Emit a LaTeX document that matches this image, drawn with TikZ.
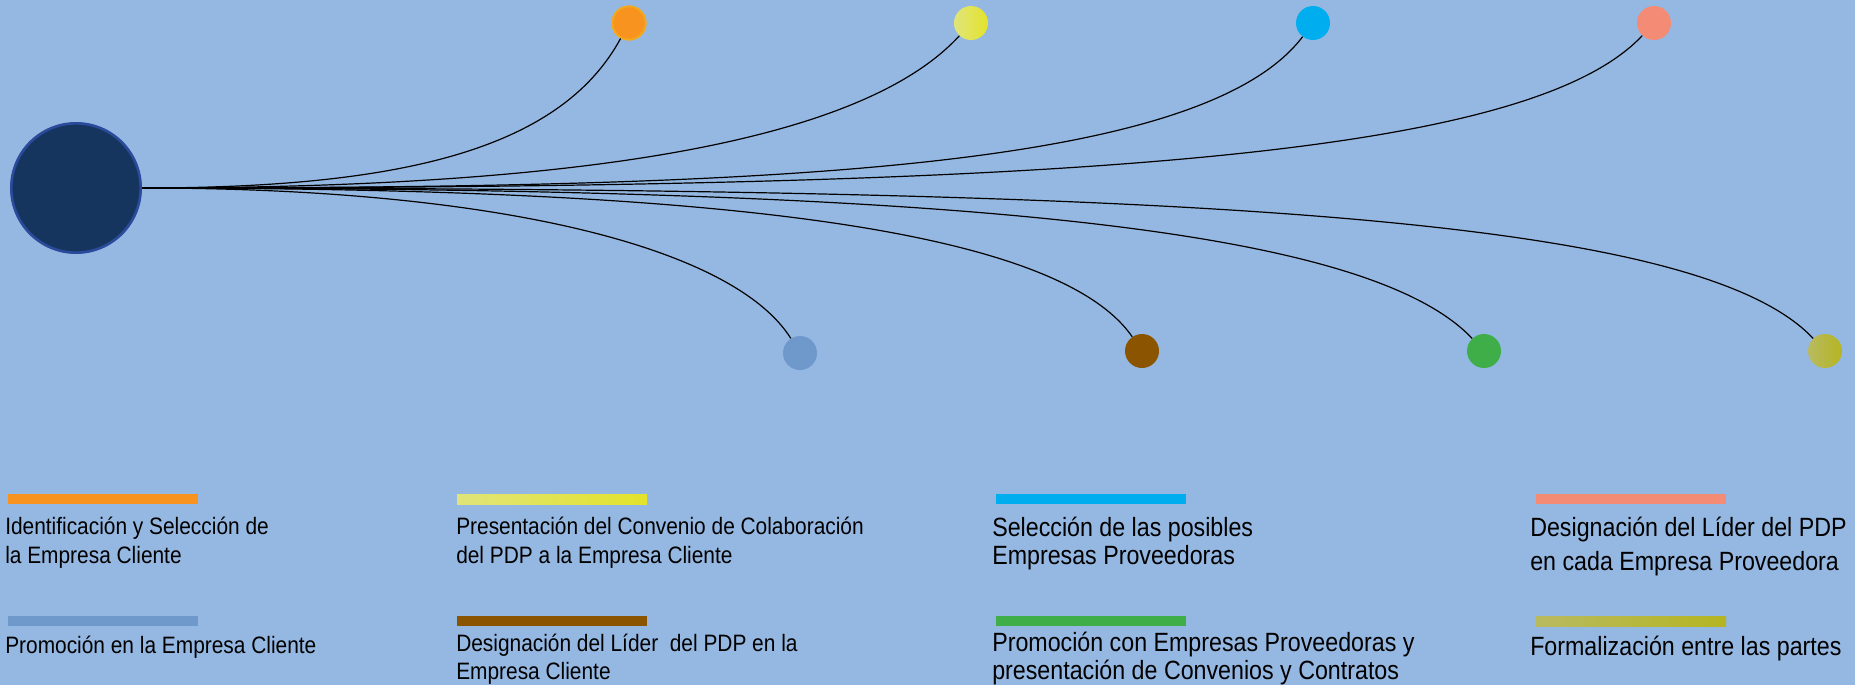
\documentclass[tikz,border=0pt]{standalone}
\usepackage{fontspec}
\setmainfont[FakeStretch=0.88]{Liberation Sans}
\usetikzlibrary{positioning}

\definecolor{bgblue}{HTML}{95B8E2}
\definecolor{hubfill}{HTML}{15355E}
\definecolor{hubline}{HTML}{2A4A9B}
\definecolor{cOrange}{HTML}{F7931E}
\definecolor{cOrangeRing}{HTML}{F5A81C}
\definecolor{cYellowL}{HTML}{E0E47A}
\definecolor{cYellow}{HTML}{E3E32A}
\definecolor{cCyan}{HTML}{00AEEF}
\definecolor{cSalmon}{HTML}{F48B74}
\definecolor{cSteel}{HTML}{6F98CB}
\definecolor{cBrown}{HTML}{8B5400}
\definecolor{cGreen}{HTML}{3FAE49}
\definecolor{cOliveL}{HTML}{B8BA60}
\definecolor{cOlive}{HTML}{B5B522}

\begin{document}
\begin{tikzpicture}[x=0.75pt,y=0.75pt,yscale=-1,xscale=1,
  dot/.style={circle,inner sep=0pt,minimum size=25.5pt},
  link/.style={draw=black,line width=0.9pt},
  legtxt/.style={anchor=base west,inner sep=0pt,align=left,font=\fontsize{17.8}{21.75}\selectfont},
  legbig/.style={anchor=base west,inner sep=0pt,align=left,font=\fontsize{19.8}{21}\selectfont}]
% background
\useasboundingbox (0,0) rectangle (1855,685);
\fill[bgblue] (0,0) rectangle (1855,685);
% hub
\node[circle,fill=hubfill,draw=hubline,line width=2pt,minimum size=97pt] (hub) at (76,188) {};
% upper dots
\node[dot,fill=cOrange,draw=cOrangeRing,line width=1.5pt,minimum size=25pt] (o1) at (629,23) {};
\node[dot,left color=cYellowL,right color=cYellow] (o2) at (971,23) {};
\node[dot,fill=cCyan] (o3) at (1313,23) {};
\node[dot,fill=cSalmon] (o4) at (1654,23) {};
% lower dots
\node[dot,fill=cSteel] (u1) at (800,353) {};
\node[dot,fill=cBrown] (u2) at (1142,351) {};
\node[dot,fill=cGreen] (u3) at (1484,351) {};
\node[dot,left color=cOliveL,right color=cOlive] (u4) at (1825,351) {};
% links
\draw[link] (hub.east) .. controls (400,188) and (560,150) .. (o1);
\draw[link] (hub.east) .. controls (542,188) and (855,150) .. (o2);
\draw[link] (hub.east) .. controls (757,188) and (1200,172) .. (o3);
\draw[link] (hub.east) .. controls (1050,188) and (1526,160) .. (o4);
\draw[link] (hub.east) .. controls (501,188) and (734,248) .. (u1);
\draw[link] (hub.east) .. controls (696,188) and (1055,225) .. (u2);
\draw[link] (hub.east) .. controls (940,188) and (1365,225) .. (u3);
\draw[link] (hub.east) .. controls (1190,188) and (1697,215) .. (u4);
% legend bars
\fill[cOrange] (8,494) rectangle (198,504);
\shade[left color=cYellowL,right color=cYellow] (457,494) rectangle (647,504);
\fill[cCyan] (996,494) rectangle (1186,504);
\fill[cSalmon] (1536,494) rectangle (1726,504);
\fill[cSteel] (8,616) rectangle (198,626);
\fill[cBrown] (457,616) rectangle (647,626);
\fill[cGreen] (996,616) rectangle (1186,626);
\shade[left color=cOliveL,right color=cOlive] (1536,616) rectangle (1726,626);
% legend texts (base = last line)
\node[legtxt] (t1) at (5,563) {Identificación y Selección de\\la Empresa Cliente};
\node[legtxt] (t2) at (456,563) {Presentación del Convenio de Colaboración\\del PDP a la Empresa Cliente};
\node[legbig] (t3) at (992,564) {Selección de las posibles\\Empresas Proveedoras};
\node[legbig,font=\fontsize{19.8}{25.5}\selectfont] (t4) at (1530,570) {Designación del Líder del PDP\\en cada Empresa Proveedora};
\node[legtxt] (t5) at (5,653) {Promoción en la Empresa Cliente};
\node[legtxt,font=\fontsize{17.8}{21}\selectfont] (t6) at (456,679) {Designación del Líder \ del PDP en la\\Empresa Cliente};
\node[legbig] (t7) at (992,679) {Promoción con Empresas Proveedoras y\\presentación de Convenios y Contratos};
\node[legbig] (t8) at (1530,655) {Formalización entre las partes};
\end{tikzpicture}
\end{document}
